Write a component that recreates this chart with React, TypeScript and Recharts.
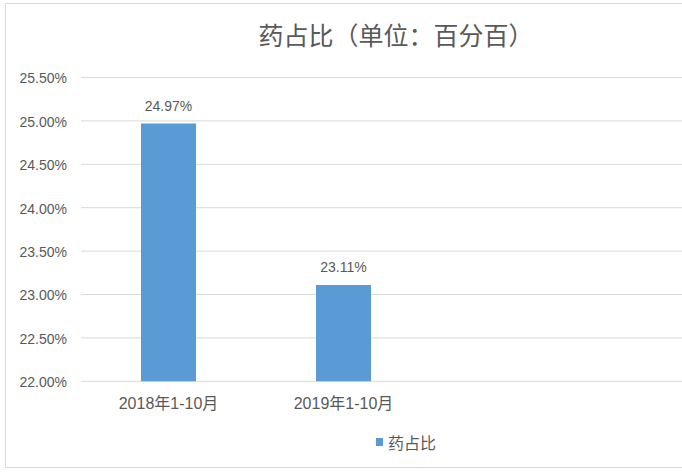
import React from 'react';
import { BarChart, Bar, XAxis, YAxis, CartesianGrid, LabelList, Legend } from 'recharts';

const categories = ['2018年1-10月', '2019年1-10月'];
const seriesName = '药占比';
const values = [24.97, 23.11];
const yTicks = [22, 22.5, 23, 23.5, 24, 24.5, 25, 25.5];
const title = '药占比（单位：百分百）';

const data = categories.map((c, i) => ({ name: c, value: values[i] }));

const FONT = '"Liberation Sans", "Noto Sans CJK SC", sans-serif';
const TEXT = '#595959';

const renderLegend = (props: any) => {
  const { payload } = props;
  return (
    <div style={{ display: 'flex', alignItems: 'center', height: 20 }}>
      {(payload || []).map((p: any, i: number) => (
        <div key={i} style={{ display: 'flex', alignItems: 'center' }}>
          <span style={{ display: 'inline-block', width: 7, height: 8, background: p.color, marginRight: 5 }} />
          <span style={{ fontSize: 16, color: TEXT, fontFamily: FONT }}>{p.value}</span>
        </div>
      ))}
    </div>
  );
};

export default function App() {
  return (
    <div style={{ position: 'absolute', left: 0, top: 0, width: 682, height: 473, overflow: 'hidden', background: '#fff' }}>
      <div
        style={{
          position: 'absolute',
          left: 5,
          top: 3,
          width: 795,
          height: 465,
          border: '1px solid #d9d9d9',
          boxSizing: 'border-box',
          fontFamily: FONT,
        }}
      >
        <div
          style={{
            position: 'absolute',
            left: 0,
            width: 780,
            top: 15,
            lineHeight: '30px',
            textAlign: 'center',
            fontSize: 25,
            color: TEXT,
            fontFamily: '"Noto Sans CJK SC", sans-serif',
          }}
        >
          {title}
        </div>
        <BarChart
          width={790}
          height={462}
          data={data}
          margin={{ top: 73.5, right: 15, bottom: 54.7, left: 10 }}
          style={{ fontFamily: FONT }}
        >
          <CartesianGrid vertical={false} stroke="#d9d9d9" strokeWidth={1} />
          <XAxis
            dataKey="name"
            height={30}
            padding={{ left: 0, right: 350 }}
            axisLine={false}
            tickLine={false}
            tickSize={6}
            tickMargin={10}
            interval={0}
            tick={{ fill: TEXT, fontSize: 16, fontFamily: FONT }}
          />
          <YAxis
            width={65}
            domain={[22, 25.5]}
            ticks={yTicks}
            interval={0}
            axisLine={false}
            tickLine={false}
            tickSize={6}
            tickMargin={8}
            tick={{ fill: TEXT, fontSize: 14, fontFamily: FONT, dy: 1 }}
            tickFormatter={(v: number) => v.toFixed(2) + '%'}
          />
          <Legend
            layout="horizontal"
            verticalAlign="middle"
            align="center"
            wrapperStyle={{ position: 'absolute', top: 428, left: 370, width: 'auto' }}
            content={renderLegend}
          />
          <Bar dataKey="value" name={seriesName} fill="#5b9bd5" barSize={55} isAnimationActive={false}>
            <LabelList
              dataKey="value"
              position="top"
              offset={13}
              fill={TEXT}
              fontSize={14}
              fontFamily={FONT}
              formatter={(v: any) => Number(v).toFixed(2) + '%'}
            />
          </Bar>
        </BarChart>
      </div>
    </div>
  );
}
